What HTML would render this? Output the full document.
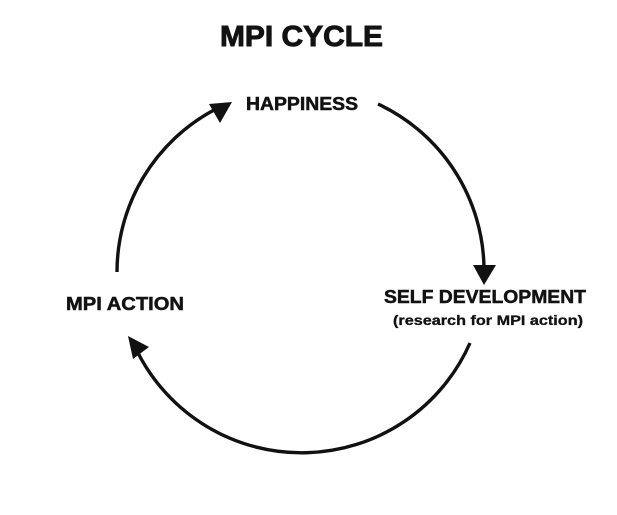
<!DOCTYPE html>
<html>
<head>
<meta charset="utf-8">
<style>
  html, body { margin: 0; padding: 0; background: #ffffff; }
  body { width: 617px; height: 515px; overflow: hidden; }
  svg { display: block; }
  text { font-family: "Liberation Sans", Arial, sans-serif; font-weight: bold; fill: #121212; stroke: #121212; stroke-width: 0.5; }
</style>
</head>
<body>
<svg width="617" height="515" viewBox="0 0 617 515" xmlns="http://www.w3.org/2000/svg">
  <rect x="0" y="0" width="617" height="515" fill="#ffffff"/>

  <!-- Title -->
  <text x="220" y="46" font-size="29" textLength="163" lengthAdjust="spacingAndGlyphs" style="stroke-width:0.9">MPI CYCLE</text>

  <!-- Node labels -->
  <text x="246" y="110" font-size="18" textLength="112" lengthAdjust="spacingAndGlyphs">HAPPINESS</text>
  <text x="384" y="303" font-size="18.5" textLength="202" lengthAdjust="spacingAndGlyphs">SELF DEVELOPMENT</text>
  <text x="393" y="325" font-size="13.5" textLength="190" lengthAdjust="spacingAndGlyphs" style="stroke-width:0.3">(research for MPI action)</text>
  <text x="66" y="310" font-size="18" textLength="118" lengthAdjust="spacingAndGlyphs">MPI ACTION</text>

  <!-- Arcs -->
  <g fill="none" stroke="#111111" stroke-width="3.4" stroke-linecap="butt">
    <path d="M117,272 A184,184 0 0 1 214,110"/>
    <path d="M378,104 A184,184 0 0 1 484,268"/>
    <path d="M470,343 A184,184 0 0 1 137,351"/>
  </g>

  <!-- Arrowheads -->
  <g fill="#111111" stroke="none">
    <polygon points="209,104 232,102 220,123"/>
    <polygon points="473,265 496,265 484,285"/>
    <polygon points="128,336 149,347 133,359"/>
  </g>
</svg>
</body>
</html>
